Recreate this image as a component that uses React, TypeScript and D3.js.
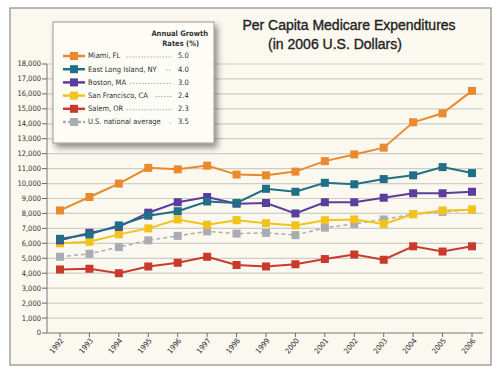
import React from "react";
import * as d3 from "d3";

const years = ["1992","1993","1994","1995","1996","1997","1998","1999","2000","2001","2002","2003","2004","2005","2006"];
const miami = [8200,9100,10000,11050,10950,11200,10600,10550,10800,11500,11950,12400,14100,14700,16200];
const eastLongIsland = [6300,6600,7200,7850,8150,8800,8700,9650,9450,10050,9950,10300,10550,11100,10700];
const boston = [6200,6700,7100,8050,8750,9100,8650,8700,8000,8750,8750,9050,9350,9350,9450];
const sanFrancisco = [6000,6100,6600,7000,7600,7250,7550,7350,7200,7550,7600,7300,7950,8200,8250];
const salem = [4250,4300,4000,4450,4700,5100,4550,4450,4600,4950,5250,4900,5800,5450,5800];
const usAverage = [5100,5300,5750,6200,6500,6800,6650,6700,6550,7050,7300,7600,7950,8100,8250];

const seriesNames = ["Miami, FL","East Long Island, NY","Boston, MA","San Francisco, CA","Salem, OR","U.S. national average"];
const growthRates = ["5.0","4.0","3.0","2.4","2.3","3.5"];
const seriesValues = [miami, eastLongIsland, boston, sanFrancisco, salem, usAverage];
const colors = ["#e98a2c","#1f6f86","#5a3d9d","#f1c31c","#c93a2d","#a9adb2"];
const yTicks = d3.range(0, 18001, 1000);

export default function App() {
  const W = 500, H = 375;
  const x = d3.scalePoint<string>().domain(years).range([60, 472]);
  const y = d3.scaleLinear().domain([0, 18000]).range([333, 64]);
  const line = d3.line<number>().x((_, i) => x(years[i])!).y(d => y(d));
  const axisFont = "'Liberation Sans Narrow', 'DejaVu Sans Condensed', Arial, sans-serif";
  const order = [5, 4, 3, 2, 1, 0];
  return (
    <svg width={W} height={H} style={{ position: "absolute", left: 0, top: 0, display: "block" }}>
      <defs>
        <filter id="sh" x="-20%" y="-20%" width="150%" height="150%">
          <feGaussianBlur in="SourceAlpha" stdDeviation="3" />
          <feOffset dx="3" dy="4" result="b" />
          <feComponentTransfer><feFuncA type="linear" slope="0.45" /></feComponentTransfer>
          <feMerge><feMergeNode /><feMergeNode in="SourceGraphic" /></feMerge>
        </filter>
      </defs>
      <rect x={0} y={0} width={W} height={H} fill="#ffffff" />
      <rect x={10} y={8} width={481} height={357} fill="#faf8ef" stroke="#8a8a86" strokeWidth={1.2} />
      {yTicks.map(t => (
        <g key={t}>
          {t > 0 && <line x1={47} x2={483} y1={y(t)} y2={y(t)} stroke="#cfcdc6" strokeWidth={1.2} />}
          <line x1={42} x2={47} y1={y(t)} y2={y(t)} stroke="#666" strokeWidth={1} />
          <text x={41} y={y(t)} dy="0.33em" textAnchor="end" fontSize={7.5} fontFamily={axisFont} fill="#333">
            {d3.format(",")(t)}
          </text>
        </g>
      ))}
      <line x1={47} x2={47} y1={y(18000)} y2={333} stroke="#777" strokeWidth={1} />
      <line x1={47} x2={483} y1={333} y2={333} stroke="#777" strokeWidth={1} />
      {years.map(yr => (
        <g key={yr}>
          <line x1={x(yr)!} x2={x(yr)!} y1={333} y2={337} stroke="#666" />
          <text transform={`translate(${x(yr)! + 4},${341}) rotate(-50)`} textAnchor="end" fontSize={7.5} fontFamily={axisFont} fill="#333">{yr}</text>
        </g>
      ))}
      {order.map(si => (
        <g key={si}>
          <path d={line(seriesValues[si])!} fill="none" stroke={colors[si]} strokeWidth={si === 5 ? 1.5 : 2}
            strokeDasharray={si === 5 ? "4,3" : undefined} />
          {seriesValues[si].map((v, i) => (
            <rect key={i} x={x(years[i])! - 4} y={y(v) - 4} width={8} height={8} fill={colors[si]} />
          ))}
        </g>
      ))}
      <text x={349} y={30} textAnchor="middle" fontSize={14} fontFamily="'Liberation Sans', Arial, sans-serif" fill="#222" stroke="#222" strokeWidth={0.35}>Per Capita Medicare Expenditures</text>
      <text x={335} y={49} textAnchor="middle" fontSize={14} fontFamily="'Liberation Sans', Arial, sans-serif" fill="#222" stroke="#222" strokeWidth={0.35}>(in 2006 U.S. Dollars)</text>
      <g filter="url(#sh)">
        <rect x={53} y={22} width={161} height={121} fill="#fdfcf7" stroke="#9a9a96" strokeWidth={1} />
      </g>
      <text x={208} y={36} textAnchor="end" fontSize={7.5} fontWeight="bold" fontFamily={axisFont} fill="#333">Annual Growth</text>
      <text x={199} y={46} textAnchor="end" fontSize={7.5} fontWeight="bold" fontFamily={axisFont} fill="#333">Rates (%)</text>
      {seriesNames.map((n, i) => {
        const ly = 56 + i * 13.2;
        return (
          <g key={n}>
            <line x1={63} x2={85} y1={ly} y2={ly} stroke={colors[i]} strokeWidth={2.5} strokeDasharray={i === 5 ? "3,2" : undefined} />
            <rect x={70} y={ly - 4} width={8} height={8} fill={colors[i]} />
            <text x={88} y={ly} dy="0.33em" fontSize={7.5} fontFamily={axisFont} fill="#333">{n}</text>
            <line x1={88 + n.length * 3.6 + 6} x2={172} y1={ly + 1} y2={ly + 1} stroke="#999" strokeWidth={0.8} strokeDasharray="1.5,1.5" />
            <text x={178} y={ly} dy="0.33em" fontSize={7.5} fontFamily={axisFont} fill="#333">{growthRates[i]}</text>
          </g>
        );
      })}
    </svg>
  );
}
